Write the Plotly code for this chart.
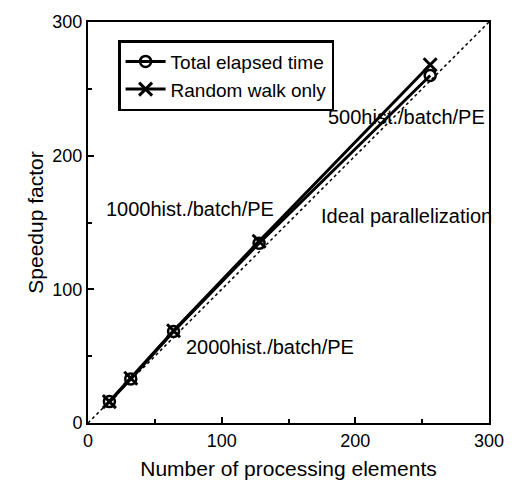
import plotly.graph_objects as go

pe = [16, 32, 64, 128, 256]
total_elapsed = [16, 33, 68.5, 134.5, 260]
random_walk = [16, 33.5, 69, 136, 268]
ideal_x = [0, 300]
ideal_y = [0, 300]
labels = ["500hist./batch/PE", "1000hist./batch/PE", "Ideal parallelization", "2000hist./batch/PE"]
label_x = [238, 76, 238, 136]
label_y = [229, 160, 155, 57]

FONT = "Liberation Sans, Arial, Helvetica, sans-serif"

fig = go.Figure()
fig.add_trace(go.Scatter(x=ideal_x, y=ideal_y, mode="lines",
                         line=dict(color="black", width=1.5, dash="dot"),
                         showlegend=False, hoverinfo="skip"))
fig.add_trace(go.Scatter(x=pe, y=total_elapsed, mode="lines+markers", name="Total elapsed time",
                         line=dict(color="black", width=3),
                         marker=dict(symbol="circle-open", size=11, color="black", line=dict(width=2.5))))
fig.add_trace(go.Scatter(x=pe, y=random_walk, mode="lines+markers", name="Random walk only",
                         line=dict(color="black", width=3),
                         marker=dict(symbol="x-thin-open", size=13, color="black", line=dict(width=3))))

for t, x, y in zip(labels, label_x, label_y):
    fig.add_annotation(x=x, y=y, text=t, showarrow=False,
                       font=dict(family=FONT, size=20, color="black"))

axis_common = dict(range=[0, 300], tickvals=[0, 100, 200, 300], showgrid=False, zeroline=False,
                   showline=True, linecolor="black", linewidth=2, mirror=True,
                   ticks="inside", ticklen=6, tickwidth=2, tickcolor="black",
                   minor=dict(tickvals=[50, 150, 250], ticks="inside", ticklen=4, tickwidth=2, tickcolor="black"),
                   tickfont=dict(family=FONT, size=18, color="black"))

fig.update_xaxes(title=dict(text="Number of processing elements", font=dict(family=FONT, size=21, color="black"), standoff=12),
                 **axis_common)
fig.update_yaxes(title=dict(text="Speedup factor", font=dict(family=FONT, size=21, color="black"), standoff=3),
                 **axis_common)

fig.update_layout(width=516, height=494, margin=dict(l=88, r=24, t=17, b=71),
                  paper_bgcolor="white", plot_bgcolor="white",
                  font=dict(family=FONT, color="black"),
                  legend=dict(x=0.075, y=0.955, xanchor="left", yanchor="top",
                              bgcolor="white", bordercolor="black", borderwidth=2.5,
                              font=dict(family=FONT, size=19, color="black"),
                              tracegroupgap=0, itemwidth=40))

fig.write_html("out.html")
